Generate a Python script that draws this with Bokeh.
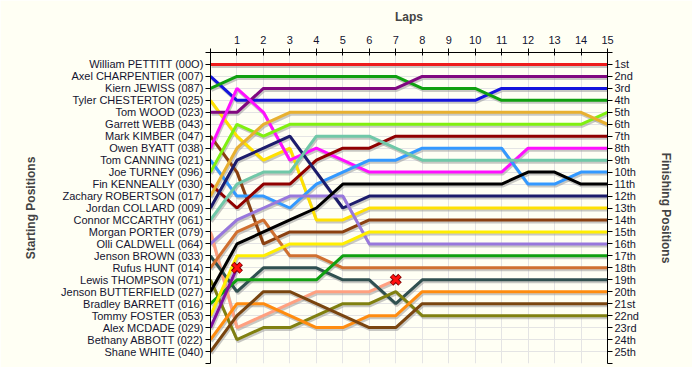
from bokeh.plotting import figure
from bokeh.models import Range1d, LinearAxis, FixedTicker
from bokeh.embed import file_html
from bokeh.resources import INLINE

# ---------------- data ----------------
laps = [0, 1, 2, 3, 4, 5, 6, 7, 8, 9, 10, 11, 12, 13, 14, 15]

drivers = [
    "William PETTITT (00O)", "Axel CHARPENTIER (007)", "Kiern JEWISS (087)",
    "Tyler CHESTERTON (025)", "Tom WOOD (023)", "Garrett WEBB (043)",
    "Mark KIMBER (047)", "Owen BYATT (038)", "Tom CANNING (021)",
    "Joe TURNEY (096)", "Fin KENNEALLY (030)", "Zachary ROBERTSON (017)",
    "Jordan COLLARD (009)", "Connor MCCARTHY (061)", "Morgan PORTER (079)",
    "Olli CALDWELL (064)", "Jenson BROWN (033)", "Rufus HUNT (014)",
    "Lewis THOMPSON (071)", "Jenson BUTTERFIELD (027)", "Bradley BARRETT (016)",
    "Tommy FOSTER (053)", "Alex MCDADE (029)", "Bethany ABBOTT (022)",
    "Shane WHITE (040)",
]

finish_labels = ["1st", "2nd", "3rd", "4th", "5th", "6th", "7th", "8th", "9th",
                 "10th", "11th", "12th", "13th", "14th", "15th", "16th", "17th",
                 "18th", "19th", "20th", "21st", "22nd", "23rd", "24th", "25th"]

# position of each driver at the end of each lap (lap 0 = grid)
pos_pettitt     = [1, 1, 1, 1, 1, 1, 1, 1, 1, 1, 1, 1, 1, 1, 1, 1]
pos_charpentier = [2, 4, 4, 4, 4, 4, 4, 4, 4, 4, 4, 3, 3, 3, 3, 3]
pos_jewiss      = [3, 2, 2, 2, 2, 2, 2, 2, 3, 3, 3, 4, 4, 4, 4, 4]
pos_chesterton  = [4, 7, 9, 8, 14, 14, 13, 13, 13, 13, 13, 13, 13, 13, 13, 13]
pos_wood        = [5, 5, 3, 3, 3, 3, 3, 3, 2, 2, 2, 2, 2, 2, 2, 2]
pos_webb        = [6]
pos_kimber      = [7, 10, 16, 15, 15, 15, 14, 14, 14, 14, 14, 14, 14, 14, 14, 14]
pos_byatt       = [8, 3, 5, 9, 8, 9, 10, 10, 10, 10, 10, 10, 8, 8, 8, 8]
pos_canning     = [9, 12, 12, 13, 11, 10, 9, 9, 8, 8, 8, 8, 11, 11, 10, 10]
pos_turney      = [10, 6, 7, 6, 6, 6, 6, 6, 6, 6, 6, 6, 6, 6, 6, 5]
pos_kenneally   = [11, 13, 11, 11, 9, 8, 8, 7, 7, 7, 7, 7, 7, 7, 7, 7]
pos_robertson   = [12, 8, 6, 5, 5, 5, 5, 5, 5, 5, 5, 5, 5, 5, 5, 6]
pos_collard     = [13, 9, 8, 7, 10, 13, 12, 12, 12, 12, 12, 12, 12, 12, 12, 12]
pos_mccarthy    = [14, 11, 10, 10, 7, 7, 7, 8, 9, 9, 9, 9, 9, 9, 9, 9]
pos_porter      = [15, 23, 22, 21, 20, 20, 20, 19]
pos_caldwell    = [16, 14, 13, 12, 12, 12, 16, 16, 16, 16, 16, 16, 16, 16, 16, 16]
pos_brown       = [17, 20, 18, 18, 18, 19, 19, 21, 19, 19, 19, 19, 19, 19, 19, 19]
pos_hunt        = [18, 15, 14, 17, 17, 18, 18, 18, 18, 18, 18, 18, 18, 18, 18, 18]
pos_thompson    = [19, 24, 23, 23, 22, 21, 21, 20, 22, 22, 22, 22, 22, 22, 22, 22]
pos_butterfield = [20, 16, 15, 14, 13, 11, 11, 11, 11, 11, 11, 11, 10, 10, 11, 11]
pos_barrett     = [21, 19, 19, 19, 19, 17, 17, 17, 17, 17, 17, 17, 17, 17, 17, 17]
pos_foster      = [22, 17, 17, 16, 16, 16, 15, 15, 15, 15, 15, 15, 15, 15, 15, 15]
pos_mcdade      = [23, 18]
pos_abbott      = [24, 21, 21, 22, 23, 23, 22, 22, 20, 20, 20, 20, 20, 20, 20, 20]
pos_white       = [25, 22, 20, 20, 21, 22, 23, 23, 21, 21, 21, 21, 21, 21, 21, 21]

all_positions = [pos_pettitt, pos_charpentier, pos_jewiss, pos_chesterton, pos_wood,
                 pos_webb, pos_kimber, pos_byatt, pos_canning, pos_turney,
                 pos_kenneally, pos_robertson, pos_collard, pos_mccarthy, pos_porter,
                 pos_caldwell, pos_brown, pos_hunt, pos_thompson, pos_butterfield,
                 pos_barrett, pos_foster, pos_mcdade, pos_abbott, pos_white]

# ---------------- style ----------------
colors = ["#EE1C1C", "#1414DC", "#10A010", "#FFE100", "#800880", "#CCCCCC",
          "#8B4010", "#FF10FF", "#3399FF", "#80F010", "#900000", "#E8B030",
          "#1C1C6C", "#70C8A8", "#FFA080", "#9878DC", "#305050", "#D07030",
          "#808010", "#000000", "#10A010", "#FFEE00", "#8010A0", "#FF8C10",
          "#7A4510"]

BG = "#FFFFF4"
TXT = "#141430"
FONT = "Liberation Sans"

n_pos = len(drivers)

p = figure(width=692, height=367, output_backend="svg", toolbar_location=None,
           x_range=Range1d(laps[0], laps[-1]), y_range=Range1d(n_pos + 1, 0),
           x_axis_location="above", y_axis_location="left",
           min_border_left=210, min_border_right=85, min_border_top=52,
           min_border_bottom=4)
p.background_fill_color = BG
p.border_fill_color = BG
p.outline_line_color = None

pos_ticks = list(range(0, n_pos + 2))

# top axis (laps)
xa = p.xaxis[0]
xa.ticker = FixedTicker(ticks=laps)
xa.major_label_overrides = {0: ""}
xa.axis_label = "Laps"
xa.axis_label_text_font = FONT
xa.axis_label_text_font_style = "bold"
xa.axis_label_text_font_size = "12px"
xa.axis_label_standoff = 9
xa.major_label_text_font = FONT
xa.major_label_text_font_size = "11px"
xa.major_label_text_color = TXT
xa.major_label_standoff = 5
xa.major_tick_in = 3
xa.major_tick_out = 4
xa.minor_tick_line_color = None
xa.axis_line_color = "black"

# left axis (starting positions)
ya = p.yaxis[0]
ya.ticker = FixedTicker(ticks=pos_ticks)
ya.major_label_overrides = {i: (drivers[i - 1] if 1 <= i <= n_pos else "") for i in pos_ticks}
ya.axis_label = "Starting Positions"
ya.axis_label_text_font = FONT
ya.axis_label_text_font_style = "bold"
ya.axis_label_text_font_size = "12px"
ya.axis_label_standoff = 20
ya.major_label_text_font = FONT
ya.major_label_text_font_size = "11px"
ya.major_label_text_color = TXT
ya.major_label_standoff = 2
ya.major_tick_in = 0
ya.major_tick_out = 5
ya.minor_tick_line_color = None

# right axis (finishing positions)
ra = LinearAxis(ticker=FixedTicker(ticks=pos_ticks))
ra.major_label_overrides = {i: (finish_labels[i - 1] if 1 <= i <= n_pos else "") for i in pos_ticks}
ra.axis_label = "Finishing Positions"
ra.axis_label_text_font = FONT
ra.axis_label_text_font_style = "bold"
ra.axis_label_text_font_size = "12px"
ra.axis_label_standoff = 17
ra.major_label_text_font = FONT
ra.major_label_text_font_size = "11px"
ra.major_label_text_color = TXT
ra.major_label_standoff = 2
ra.major_tick_in = 0
ra.major_tick_out = 5
ra.minor_tick_line_color = None
p.add_layout(ra, "right")

# grid
p.xgrid.ticker = FixedTicker(ticks=laps)
p.ygrid.ticker = FixedTicker(ticks=pos_ticks)
p.xgrid.grid_line_color = "#E4E4E4"
p.ygrid.grid_line_color = "#E4E4E4"

# shadow offset (about 1px right, 2px down)
frame_w, frame_h = 397.0, 311.0
dx = 1.0 * (laps[-1] - laps[0]) / frame_w
dy = 2.0 * (n_pos + 1) / frame_h

for pos_list, col in zip(all_positions, colors):
    if len(pos_list) < 2:
        continue
    xs = laps[:len(pos_list)]
    p.line([x + dx for x in xs], [y + dy for y in pos_list],
           line_color="#9A9A9A", line_alpha=0.55, line_width=3)

for pos_list, col in zip(all_positions, colors):
    if len(pos_list) < 2:
        continue
    xs = laps[:len(pos_list)]
    p.line(xs, pos_list, line_color=col, line_width=3)

# retirement markers
for pos_list in all_positions:
    if 1 < len(pos_list) < len(laps):
        xr = laps[len(pos_list) - 1]
        yr = pos_list[-1]
        p.scatter([xr], [yr], marker="x", size=12, line_width=5, line_color="#7A0000")
        p.scatter([xr], [yr], marker="x", size=11, line_width=3, line_color="#FF1010")

open("out.html", "w").write(file_html(p, INLINE))
